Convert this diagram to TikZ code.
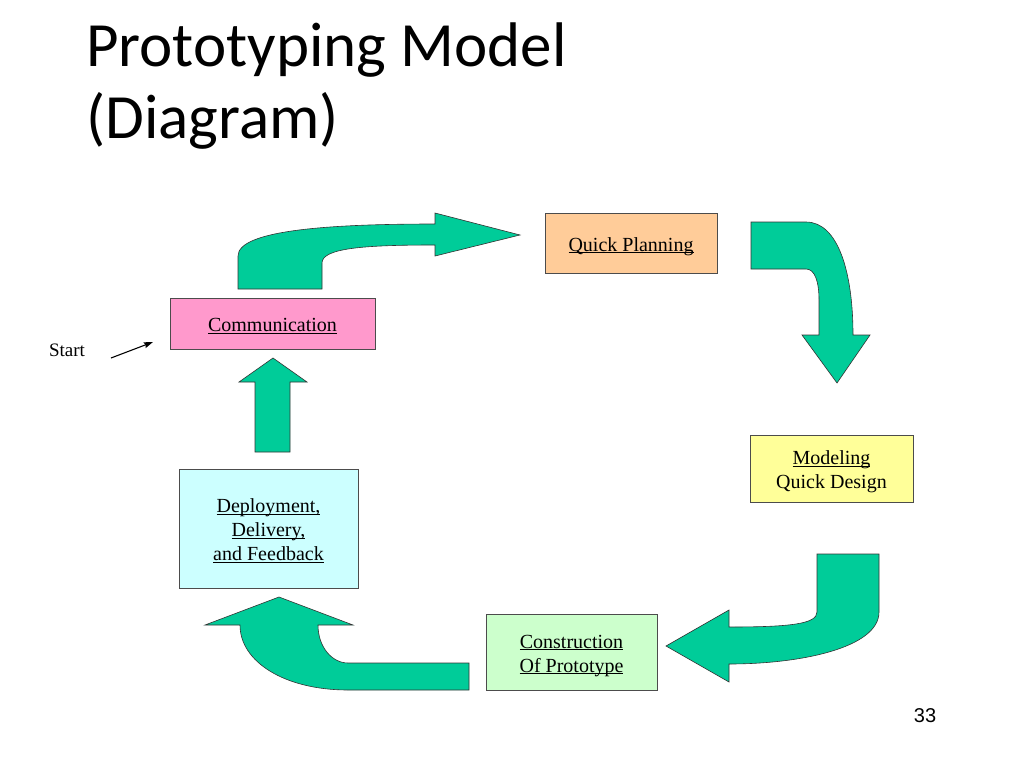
\documentclass[tikz,border=0pt]{standalone}
\usepackage{fontspec}
\setmainfont{Liberation Serif}
\newfontfamily\titlefont{Carlito}
\newfontfamily\slidenumfont{Liberation Sans}
\usetikzlibrary{arrows,arrows.meta,positioning}

\definecolor{flowgreen}{RGB}{0,204,153}
\definecolor{peach}{RGB}{255,204,153}
\definecolor{pinkish}{RGB}{255,153,204}
\definecolor{lightyellow}{RGB}{255,255,153}
\definecolor{lightcyan}{RGB}{204,255,255}
\definecolor{lightgreen}{RGB}{204,255,204}

\newcommand{\droptext}[1]{\smash{\lower1.5pt\hbox{#1}}\vphantom{A}}
\newcommand{\ulined}[1]{\droptext{\underline{\smash{#1}}}}

\begin{document}
\begin{tikzpicture}
  [x=1pt,y=-1pt,>=stealth',
   stage/.style={rectangle,draw=black!70,line width=0.8pt,inner sep=0pt,align=center,
                 font=\fontsize{20}{24}\selectfont},
   flow/.style={fill=flowgreen,draw=black!80,line width=0.6pt,line join=miter}]

  \useasboundingbox [fill=white] (0,0) rectangle (1024,768);

  % title and slide number
  \node (title) [anchor=north west,inner sep=0pt,align=left,
                 font=\titlefont\fontsize{63}{72}\selectfont] at (86,23)
    {Prototyping Model\\(Diagram)};
  \node (slidenum) [font=\slidenumfont\fontsize{20}{24}\selectfont] at (925,716) {33};

  % the five stages
  \node [stage,fill=peach,minimum width=172pt,minimum height=60pt]
        (plan)   at (631,243)   {\ulined{Quick Planning}};
  \node [stage,fill=pinkish,minimum width=205pt,minimum height=51pt]
        (comm)   at (272.5,323.5) {\ulined{Communication}};
  \node [stage,fill=lightyellow,minimum width=163pt,minimum height=67pt]
        (model)  at (831.5,468.5) {\ulined{Modeling}\\\droptext{Quick Design}};
  \node [stage,fill=lightcyan,minimum width=179pt,minimum height=119pt]
        (deploy) at (268.5,528.5) {\ulined{Deployment,}\\\ulined{Delivery,}\\\ulined{and Feedback}};
  \node [stage,fill=lightgreen,minimum width=171pt,minimum height=76pt]
        (build)  at (571.5,652)   {\ulined{Construction}\\\ulined{Of Prototype}};

  % start marker
  \node (start) [font=\fontsize{19}{23}\selectfont] at (67,350) {Start};
  \coordinate (startfoot) at (111,358);
  \coordinate (starttip)  at (153,342);
  \draw [-{Stealth[length=9pt,width=6pt,inset=1pt]},line width=1.1pt] (startfoot) -- (starttip);

  % communication -> quick planning
  \draw [flow] (238,289) -- (238,256) .. controls (238,230) and (330,224) .. (435,224)
    -- (435,213) -- (520,235) -- (435,256) -- (435,245)
    .. controls (365,245) and (322,248) .. (322,263) -- (322,289) -- cycle;

  % quick planning -> modeling
  \draw [flow] (751,222) -- (806,222) .. controls (838,222) and (853,272) .. (853,335)
    -- (870,335) -- (837,383) -- (802,335) -- (819,335)
    -- (819,300) .. controls (819,282) and (815,269) .. (806,269) -- (751,269) -- cycle;

  % modeling -> construction
  \draw [flow] (817,554) -- (879,554) -- (879,612) .. controls (879,648) and (800,664) .. (729,664)
    -- (729,682) -- (666,646) -- (729,610) -- (729,627)
    .. controls (790,627) and (817,624) .. (817,612) -- cycle;

  % construction -> deployment
  \draw [flow] (469,663) -- (469,690) -- (348,690) .. controls (285,690) and (240,662) .. (240,625)
    -- (205,625) -- (279,597) -- (353,625) -- (318,625)
    .. controls (318,647) and (332,663) .. (348,663) -- cycle;

  % deployment -> communication
  \draw [flow] (255,452) -- (255,382) -- (239,382) -- (273,358) -- (307,382)
    -- (290,382) -- (290,452) -- cycle;

\end{tikzpicture}
\end{document}
